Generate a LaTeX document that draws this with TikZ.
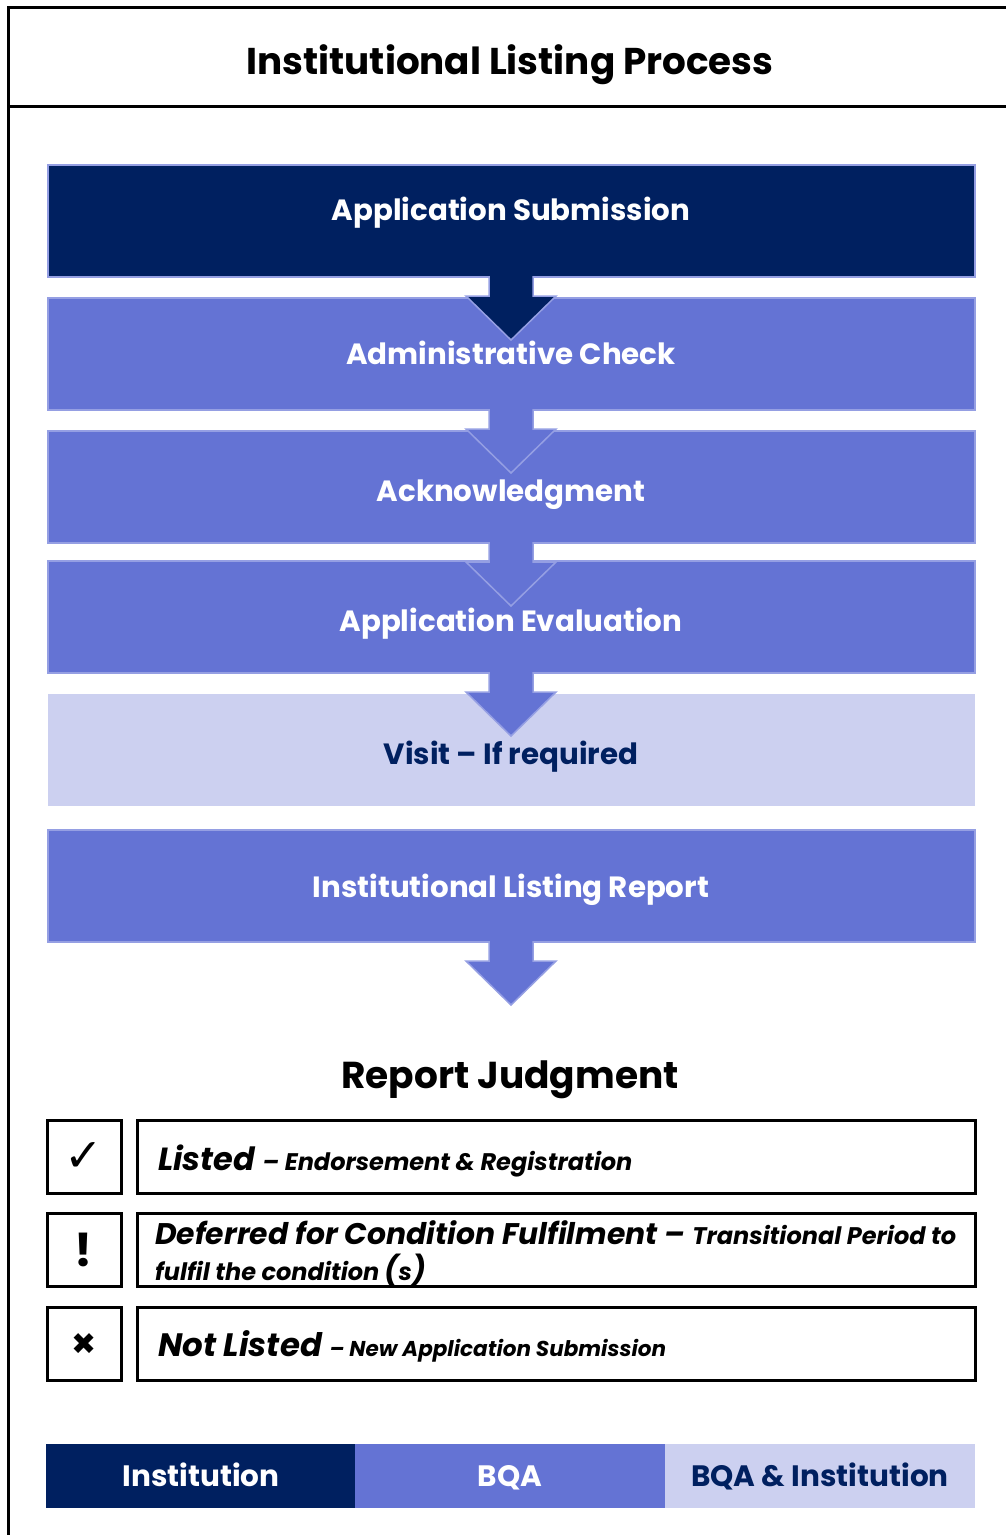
\documentclass[tikz,border=0pt]{standalone}
\usepackage{fontspec}
\setmainfont{Poppins}
\newfontfamily\symbfont{DejaVu Sans}
\usetikzlibrary{calc}
\definecolor{navyblue}{HTML}{002060}
\definecolor{midblue}{HTML}{6473D4}
\definecolor{paleblue}{HTML}{CCD0F0}
\definecolor{edgeblue}{HTML}{959FE3}

\begin{document}
\begin{tikzpicture}[x=1pt, y=-1pt, line join=miter]
  \tikzset{stepbox/.style={rectangle, draw=edgeblue, line width=2pt, minimum width=927pt, minimum height=112pt, inner sep=0pt}};
  \tikzset{steptext/.style={inner sep=0pt, text height=20pt, text depth=0pt, text=white, font=\fontsize{29.3}{31}\selectfont\bfseries}};
  \tikzset{blockarrow/.style={line width=1.5pt, draw=edgeblue}};
  \tikzset{iconbox/.style={rectangle, draw, line width=3pt, minimum width=74pt, minimum height=73pt, inner sep=0pt}};
  \tikzset{judgebox/.style={rectangle, draw, line width=3pt, minimum width=838pt, minimum height=73pt, inner sep=0pt}};
  \tikzset{judgetext/.style={anchor=base west, inner sep=0pt, font=\bfseries\itshape}};
  \tikzset{keybox/.style={rectangle, minimum width=310pt, minimum height=64pt, inner sep=0pt, text height=21pt, text depth=0pt, font=\fontsize{29.5}{31}\selectfont\bfseries}};
  \useasboundingbox (0,0) rectangle (1006,1535);
  % frame and title
  \draw[line width=3pt] (1006,7) -- (8,7) -- (8,1535);
  \draw[line width=3pt] (8,106) -- (1006,106);
  \node[inner sep=0pt, text height=26pt, text depth=0pt, font=\fontsize{37.3}{40}\selectfont\bfseries] (title) at (510,61) {Institutional Listing Process};
  % process steps
  \node[stepbox, fill=navyblue] (submit) at (511,221) {};
  \node[stepbox, fill=midblue] (admin) at (511,354) {};
  \node[stepbox, fill=midblue] (ack) at (511,487) {};
  \node[stepbox, fill=midblue] (eval) at (511,617) {};
  \node[stepbox, fill=paleblue, draw=none] (visit) at (511,750) {};
  \node[stepbox, fill=midblue] (report) at (511,886) {};
  % arrows
  \filldraw[blockarrow, fill=navyblue] ($(submit.south)+(-22,-2)$) -- ++(0,20) -- ++(-23,0) -- ++(45,44) -- ++(45,-44) -- ++(-23,0) -- ++(0,-20);
  \filldraw[blockarrow, fill=midblue] ($(admin.south)+(-22,-2)$) -- ++(0,20) -- ++(-23,0) -- ++(45,44) -- ++(45,-44) -- ++(-23,0) -- ++(0,-20);
  \filldraw[blockarrow, fill=midblue] ($(ack.south)+(-22,-2)$) -- ++(0,20) -- ++(-23,0) -- ++(45,44) -- ++(45,-44) -- ++(-23,0) -- ++(0,-20);
  \filldraw[blockarrow, fill=midblue] ($(eval.south)+(-22,-2)$) -- ++(0,20) -- ++(-23,0) -- ++(45,44) -- ++(45,-44) -- ++(-23,0) -- ++(0,-20);
  \filldraw[blockarrow, fill=midblue] ($(report.south)+(-22,-2)$) -- ++(0,20) -- ++(-23,0) -- ++(45,44) -- ++(45,-44) -- ++(-23,0) -- ++(0,-20);
  % step labels
  \node[steptext] (submitlabel) at (511,210) {Application Submission};
  \node[steptext] (adminlabel) at (511,354) {Administrative Check};
  \node[steptext] (acklabel) at (511,491) {Acknowledgment};
  \node[steptext] (evallabel) at (511,621) {Application Evaluation};
  \node[steptext, text=navyblue] (visitlabel) at (511,754) {Visit -- If required};
  \node[steptext] (reportlabel) at (511,887) {Institutional Listing Report};
  % judgments
  \node[inner sep=0pt, text height=26pt, text depth=0pt, font=\fontsize{37.5}{40}\selectfont\bfseries] (judgment) at (510,1075) {Report Judgment};
  \node[iconbox] (okicon) at (84,1157) {\symbfont\fontsize{46}{46}\selectfont ✓};
  \node[judgebox] (ok) at (556,1157) {};
  \node[iconbox] (wait) at (84,1250) {\fontsize{46}{46}\selectfont\bfseries !};
  \node[judgebox] (defer) at (556,1250) {};
  \node[iconbox] (noicon) at (84,1344) {\symbfont\fontsize{30}{30}\selectfont ✖};
  \node[judgebox] (no) at (556,1344) {};
  \node[judgetext] (oktext) at (158,1170) {\fontsize{32}{34}\selectfont Listed \fontsize{24}{26}\selectfont -- Endorsement \& Registration};
  \node[judgetext] (defertext) at (155,1244) {\fontsize{29.8}{32}\selectfont Deferred for Condition Fulfilment -- \fontsize{24}{26}\selectfont Transitional Period to};
  \node[judgetext] (defertext2) at (155,1280) {\fontsize{24}{26}\selectfont fulfil the condition {\fontsize{29}{29}\selectfont(}s{\fontsize{29}{29}\selectfont)}};
  \node[judgetext] (notext) at (158,1356) {\fontsize{32.4}{34}\selectfont Not Listed \fontsize{21.5}{24}\selectfont -- New Application Submission};
  % key
  \node[keybox, fill=navyblue, text=white] (keyinst) at (201,1476) {Institution};
  \node[keybox, fill=midblue, text=white] (keybqa) at (510,1476) {BQA};
  \node[keybox, fill=paleblue, text=navyblue] (keyboth) at (820,1476) {BQA \& Institution};
\end{tikzpicture}
\end{document}
